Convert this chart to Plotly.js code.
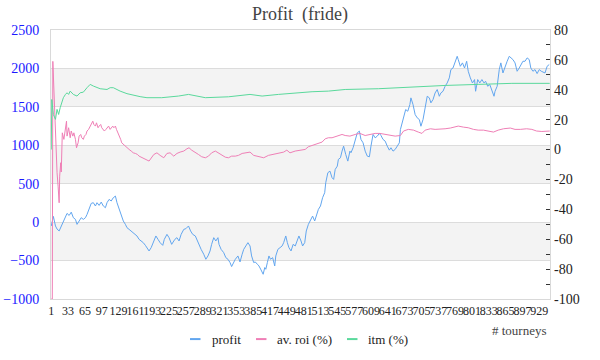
<!DOCTYPE html>
<html>
<head>
<meta charset="utf-8">
<script src="https://cdn.plot.ly/plotly-3.0.1.min.js"></script>
<style>html,body{margin:0;padding:0;background:#fff;}#chart{width:600px;height:360px;}</style>
</head>
<body>
<div id="chart"></div>
<script>
// ---- data ----
const profitX = [1,5,9,12,16,20,24,28,31,35,39,43,47,50,54,58,62,66,69,73,77,81,85,88,92,96,100,104,107,111,115,119,123,126,130,134,138,142,145,149,153,157,161,164,168,172,176,180,183,187,
191,196,200,204,208,213,216,221,225,230,236,240,244,248,253,257,262,266,270,275,279,282,286,291,295,299,303,306,310,314,318,320,324,329,333,337,341,344,348,351,356,360,364,367,371,375,379,
382,386,389,393,396,400,404,407,409,412,415,418,422,426,428,432,436,440,443,447,450,453,457,461,465,469,472,476,479,483,486,490,494,498,502,505,509,513,517,521,523,527,531,535,538,541,545,547,551,554,557,561,565,569,
571,575,579,583,587,590,594,598,602,606,609,613,617,621,625,628,632,636,640,644,647,651,655,659,663,665,668,671,675,679,683,685,689,693,697,701,704,708,712,716,720,723,727,731,735,739,742,746,750,754,758,
761,765,769,773,775,779,783,787,791,794,798,802,806,808,812,816,820,824,827,831,835,839,843,845,849,853,856,860,864,868,872,875,879,883,887,891,894,898,902,906,910,913,917,921,925,929,933,936,940,944,948];
const profit = [-50,75,-50,-90,-115,-50,-7,58,114,87,130,58,36,-29,15,58,36,58,100,166,244,253,210,253,218,261,210,188,253,296,275,318,339,253,166,100,15,-29,-72,-94,-115,-137,-159,-180,-224,-245,-267,-302,-332,-375,
-332,-245,-180,-224,-267,-302,-224,-159,-202,-289,-224,-202,-245,-159,-94,-85,-50,-115,-159,-180,-245,-310,-354,-418,-483,-440,-375,-289,-202,-245,-202,-289,-354,-397,-462,-483,-526,-578,-526,-483,-440,-518,-418,-354,-310,-267,-310,
-440,-526,-518,-548,-570,-622,-678,-591,-613,-526,-440,-483,-462,-570,-440,-354,-332,-310,-267,-180,-267,-332,-375,-289,-310,-224,-180,-245,-310,-267,-115,-29,36,79,15,79,166,210,318,383,513,643,664,578,556,686,729,816,838,924,989,881,794,924,
903,968,1076,1162,1184,1076,1032,924,859,850,989,1141,1097,1119,1154,1128,1076,1054,989,937,968,924,946,989,1032,1205,1292,1378,1465,1443,1530,1617,1530,1400,1357,1335,1248,1335,1487,1638,1617,1552,1595,1681,1725,1638,1681,1703,1768,1811,1877,
1985,2006,2072,2158,2115,2028,2072,2006,2093,1963,1877,1811,1855,1703,1855,1811,1855,1811,1833,1768,1790,1725,1638,1703,1768,1985,2072,1941,2028,2093,2158,2137,2115,2072,1963,2006,2050,2093,2093,2137,2115,2006,1963,1985,1933,1985,1963,1950,1941,2028,2050];

const roiX = [1,3,4,6,7,10,12,14,16,17,19,20,21,22,25,28,30,31,34,37,39,42,44,47,49,52,54,57,59,62,64,67,69,72,75,77,80,82,85,87,90,92,95,97,100,102,105,107,110,113,115,118,120,123,125,128,130,133,135,138,142,146,149,153,157,161,165,168,172,176,180,184,187,196,202,208,215,221,227,234,240,246,253,259,263,268,275,281,287,294,300,306,313,319,325,332,338,344,351,357,364,370,379,386,395,405,414,424,433,443,449,455,465,474,484,490,497,503,509,516,522,528,535,541,547,554,560,569,579,588,598,607,617,626,636,645,655,665,671,680,690,699,706,712,722,731,741,750,760,769,775,785,794,804,813,823,832,842,851,861,874,883,893,905,915,924,934,943,949];
const roi = [-100,-100,59,40,24.6,-4.4,-15.5,-24.5,-35.6,-17.8,-8.8,-15,-2.2,11.2,6.8,13.5,19.0,9.0,14.6,7.9,12.4,9.0,11.2,6.8,1.2,4.5,9.0,10.1,7.9,6.8,9.0,10.1,12.4,13.5,15.7,17.9,19.0,16.8,15.7,17.9,14.6,15.7,16.8,14.6,13.5,12.4,13.5,14.6,15.7,13.5,14.6,15.7,14.6,15.7,13.5,11.2,9.0,6.8,4.5,3.4,2.3,1.2,0.1,-1.0,-2.2,-2.6,-3.3,-4.4,-5.1,-5.5,-6.6,-7.1,-7.7,-3.3,-2.2,-3.9,-5.5,-2.6,-2.2,-4.4,-2.6,-1.7,-1.0,0.5,1.2,-0.4,-1.7,-3.3,-4.8,-5.5,-4.4,-2.2,-1.0,-2.2,-3.9,-5.1,-5.5,-4.4,-4.4,-3.9,-2.6,-2.2,-1.7,-3.9,-4.8,-5.5,-3.9,-3.3,-2.6,-1.7,-0.4,-2.2,-1.0,-0.4,0.1,1.9,2.8,3.4,4.1,5.0,7.2,7.9,7.9,8.6,9.0,10.1,9.4,9.0,10.1,10.8,9.4,10.1,10.8,10.8,10.1,9.4,9.0,9.4,12.4,13.5,13.0,11.7,10.8,13.0,13.9,13.5,13.5,13.9,14.4,15.0,15.7,15.0,14.6,13.5,13.0,13.0,12.4,11.7,13.0,13.9,14.4,13.5,13.5,13.9,13.5,12.4,12.1,12.4,12.4];

const itmX = [1,2,5,9,12,15,18,21,24,28,31,34,37,43,50,56,62,69,75,81,88,94,107,113,119,125,132,145,157,170,183,211,243,262,294,338,379,402,433,465,497,528,560,623,687,750,813,877,949];
const itm = [0,33.5,23.5,20.2,26.9,23.5,28.0,32.4,34.7,36.9,38.0,36.9,39.1,36.9,35.8,38.0,38.4,41.4,43.6,42.5,41.4,40.7,40.2,41.4,41.4,40.2,39.1,37.4,36.2,35.4,34.7,34.7,35.8,36.9,34.7,35.3,36.9,35.8,36.9,38.0,38.7,39.1,40.2,40.7,42.0,42.9,43.6,44.3,44.3];

const seriesNames = ['profit', 'av. roi (%)', 'itm (%)'];
const xTickVals = [1,33,65,97,129,161,193,225,257,289,321,353,385,417,449,481,513,545,577,609,641,673,705,737,769,801,833,865,897,929];
const xTickLabels = ['1','33','65','97','129','161','193','225','257','289','321','353','385','417','449','481','513','545','577','609','641','673','705','737','769','801','833','865','897','929'];
const rightTickVals = [-100,-90,-80,-70,-60,-50,-40,-30,-20,-10,0,10,20,30,40,50,60,70,80];
const rightTickLabels = ['-100','','-80','','-60','','-40','','-20','','0','','20','','40','','60','','80'];
const bands = [[1500,2000],[500,1000],[-500,0]];

// ---- styling ----
const serif = 'Liberation Serif';
const colors = ['#62a6ef', '#ef7fb6', '#5ad99c'];
const axesOf = ['y', 'y2', 'y2'];
const xs = [profitX, roiX, itmX];
const ys = [profit, roi, itm];
// custom legend layout (paper coordinates): swatch start x and text start x
const legendSwatchX = [0.2786, 0.4108, 0.5932];
const legendLen = 0.021;
const legendTextX = [0.3186, 0.4489, 0.6313];
const legendY = -0.149;

const traces = seriesNames.map((n, i) => ({
  x: xs[i], y: ys[i], name: n, type: 'scatter', mode: 'lines', yaxis: axesOf[i],
  line: {color: colors[i], width: 1}, showlegend: false
}));

const shapes = bands.map(b => ({type: 'rect', xref: 'paper', yref: 'y', x0: 0, x1: 1, y0: b[0], y1: b[1],
                                fillcolor: '#f3f3f3', line: {width: 0}, layer: 'below'}));
seriesNames.forEach((n, i) => shapes.push({type: 'line', xref: 'paper', yref: 'paper',
  x0: legendSwatchX[i], x1: legendSwatchX[i] + legendLen, y0: legendY, y1: legendY,
  line: {color: colors[i], width: 2}}));

const annotations = [{text: '# tourneys', xref: 'paper', yref: 'paper', x: 0.998, xanchor: 'right',
                      y: -0.118, yanchor: 'middle', showarrow: false,
                      font: {family: serif, size: 13, color: '#444'}}];
seriesNames.forEach((n, i) => annotations.push({text: n, xref: 'paper', yref: 'paper',
  x: legendTextX[i], xanchor: 'left', y: legendY, yanchor: 'middle', showarrow: false,
  font: {family: serif, size: 13, color: '#222'}}));

const layout = {
  width: 600, height: 360,
  margin: {l: 51, r: 50, t: 30, b: 61},
  paper_bgcolor: '#fff', plot_bgcolor: '#fff',
  title: {text: 'Profit\u00a0\u00a0(fride)', font: {family: serif, size: 18, color: '#444'},
          x: 0.5, xanchor: 'center', y: 0.962, yanchor: 'middle'},
  xaxis: {range: [0.5, 949.5], tickmode: 'array', tickvals: xTickVals, ticktext: xTickLabels,
          tickangle: 0, tickfont: {family: serif, size: 12, color: '#222'}, ticklabelstandoff: 1,
          showgrid: false, zeroline: false, showline: true, mirror: true, linecolor: '#d9d9d9', linewidth: 1, ticks: ''},
  yaxis: {range: [-1000, 2500], dtick: 500, tick0: 0, tickfont: {family: serif, size: 14, color: '#1a1aff'},
          ticklabelstandoff: 8,
          showgrid: true, gridcolor: '#dcdcdc', gridwidth: 1, zeroline: false,
          showline: true, mirror: true, linecolor: '#d9d9d9', ticks: ''},
  yaxis2: {range: [-100, 80], overlaying: 'y', side: 'right', tickmode: 'array',
           tickvals: rightTickVals, ticktext: rightTickLabels, ticks: 'inside', ticklen: 4, tickcolor: '#333',
           ticklabelstandoff: 3,
           tickfont: {family: serif, size: 14, color: '#222'}, showgrid: false, zeroline: false, showline: false},
  shapes: shapes,
  annotations: annotations,
  showlegend: false, hovermode: false
};

Plotly.newPlot('chart', traces, layout, {staticPlot: true, displayModeBar: false});
</script>
</body>
</html>
